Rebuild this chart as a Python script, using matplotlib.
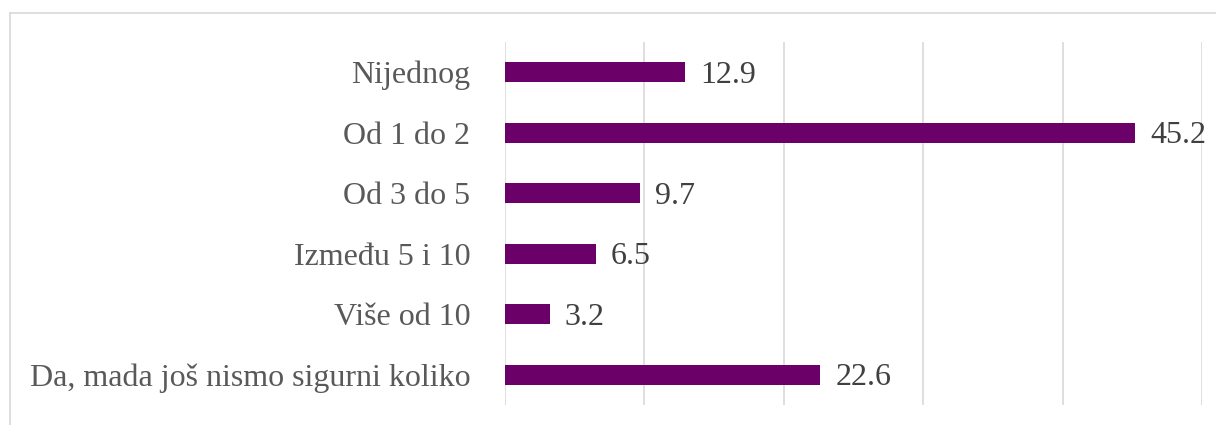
import matplotlib.pyplot as plt
from matplotlib.lines import Line2D

# Categories and values (percent)
kategorije = ['Nijednog', 'Od 1 do 2', 'Od 3 do 5', 'Između 5 i 10', 'Više od 10',
              'Da, mada još nismo sigurni koliko']
vrijednosti = [12.9, 45.2, 9.7, 6.5, 3.2, 22.6]
oznake = ['12.9', '45.2', '9.7', '6.5', '3.2', '22.6']

boja = '#6B0068'

fig = plt.figure(figsize=(12.16, 4.25), dpi=100)
ax = fig.add_axes([505/1216, 20/425, (1202-505)/1216, (405-42)/425])

y = list(range(len(kategorije)))
ax.barh(y, vrijednosti, height=0.33, color=boja)
ax.set_ylim(len(kategorije) - 0.5, -0.5)
ax.set_xlim(0, 50)
ax.set_xticks([0, 10, 20, 30, 40, 50])
ax.set_xticklabels([])
ax.set_yticks(y)
ax.set_yticklabels(kategorije, fontfamily='Liberation Serif', fontsize=23, color='#595959')
ax.tick_params(axis='both', length=0)
ax.tick_params(axis='y', pad=25)
ax.grid(axis='x', color='#d9d9d9', linewidth=1.2)
ax.set_axisbelow(True)
for s in ax.spines.values():
    s.set_visible(False)

for yi, v, t in zip(y, vrijednosti, oznake):
    ax.annotate(t, (v, yi), xytext=(11, -2), textcoords='offset points',
                va='center', ha='left', fontfamily='Liberation Serif',
                fontsize=23, color='#404040')

# chart frame (left and top border)
fig.add_artist(Line2D([10/1216, 10/1216], [0, 1 - 13/425], color='#d9d9d9', linewidth=1.2))
fig.add_artist(Line2D([10/1216, 1], [1 - 13/425, 1 - 13/425], color='#d9d9d9', linewidth=1.2))

fig.savefig('out.png', dpi=100)
